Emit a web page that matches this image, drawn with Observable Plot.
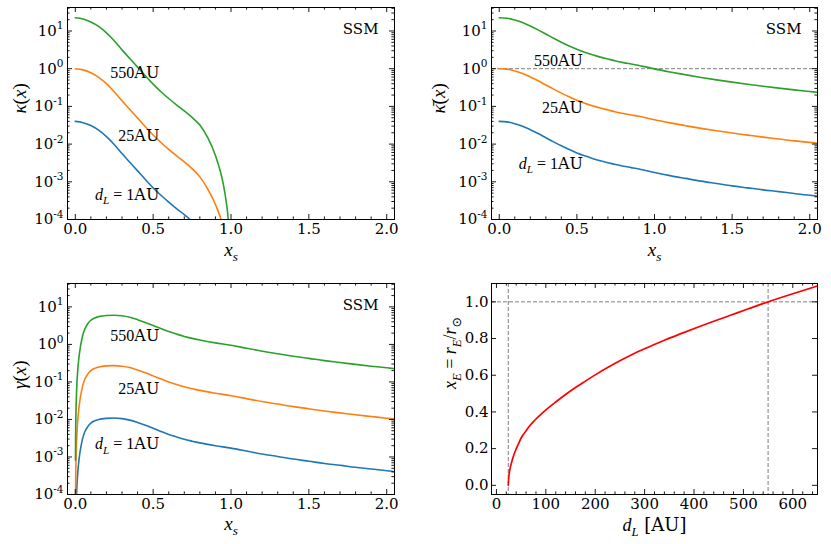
<!DOCTYPE html>
<html><head><meta charset="utf-8">
<script src="https://cdn.jsdelivr.net/npm/d3@7"></script>
<script src="https://cdn.jsdelivr.net/npm/@observablehq/plot@0.6"></script>
<style>
body{margin:0;background:#fff;}
#wrap{position:relative;width:831px;height:544px;overflow:hidden;background:#fff;}
.panel{position:absolute;}
</style></head><body><div id="wrap"></div>
<script>
// ---------- data ----------
const colors = {d1:"#1f77b4", d25:"#ff7f0e", d550:"#2ca02c", red:"#ff0000", dash:"#7f7f7f"};

// Panel 1: kappa(x)
const xsK = [0,0.05,0.1,0.15,0.2,0.25,0.3,0.35,0.4,0.45,0.5,0.55,0.6,0.65,0.7,0.75,0.8,0.85,0.9,0.93,0.95,0.97,0.98,0.985];
const kappa550 = [22.4,20.9,17.4,13.2,8.9,5.5,3.16,1.86,1.10,0.65,0.39,0.245,0.162,0.110,0.076,0.051,0.032,0.015,0.0050,0.0020,0.00089,0.00028,0.000126,0.00006];
const kappa25 = [1.0,0.93,0.78,0.59,0.40,0.245,0.141,0.083,0.049,0.029,0.0174,0.011,0.0072,0.0049,0.0034,0.00224,0.00135,0.00065,0.00025,0.00012,0.00006];
const kappa1 = [0.040,0.037,0.031,0.0234,0.0158,0.0098,0.0056,0.0033,0.00195,0.00115,0.00069,0.00044,0.00029,0.000195,0.000135,0.000089,0.000054];

// Panel 2: mean kappa
const xsKb = [0,0.05,0.1,0.15,0.2,0.25,0.3,0.35,0.4,0.45,0.5,0.55,0.6,0.65,0.7,0.75,0.8,0.85,0.9,0.95,1.0,1.1,1.2,1.3,1.4,1.5,1.6,1.7,1.8,1.9,2.0,2.05];
const kbar550 = [22.4,21.8,19.5,16.7,13.5,10.7,8.3,6.43,5.04,4.02,3.27,2.73,2.33,2.03,1.8,1.6,1.45,1.33,1.22,1.1,0.99,0.82,0.69,0.585,0.505,0.44,0.387,0.343,0.306,0.274,0.248,0.236];
const kbar25 = [1.0,0.973,0.87,0.745,0.60,0.478,0.37,0.287,0.225,0.18,0.146,0.122,0.104,0.0906,0.0804,0.0714,0.0647,0.0594,0.0545,0.0491,0.0442,0.0366,0.0308,0.0261,0.0225,0.0196,0.0173,0.0153,0.0137,0.0122,0.0111,0.0105];
const kbar1 = [0.040,0.0389,0.0348,0.0298,0.024,0.0191,0.0148,0.01148,0.009,0.0072,0.00584,0.00488,0.00416,0.00362,0.00322,0.00286,0.00259,0.00238,0.00218,0.00196,0.00177,0.00146,0.00123,0.00104,0.0009,0.00078,0.00069,0.00061,0.00055,0.00049,0.00044,0.00042];

// Panel 3: gamma(x)
const xsG = [0.001,0.002,0.004,0.007,0.01,0.015,0.02,0.03,0.04,0.05,0.06,0.08,0.1,0.125,0.15,0.2,0.25,0.3,0.35,0.4,0.45,0.5,0.55,0.6,0.65,0.7,0.75,0.8,0.9,1.0,1.1,1.2,1.3,1.4,1.5,1.6,1.7,1.8,1.9,2.0,2.05];
const gamma550 = [0.00082,0.0033,0.013,0.040,0.082,0.185,0.33,0.72,1.25,1.9,2.5,3.55,4.4,5.05,5.5,5.9,6.0,5.8,5.3,4.55,3.85,3.2,2.65,2.2,1.88,1.63,1.45,1.31,1.1,0.95,0.79,0.66,0.565,0.485,0.425,0.37,0.33,0.293,0.263,0.238,0.226];
const gamma25 = [0.000037,0.00015,0.00059,0.0018,0.0037,0.0084,0.015,0.033,0.057,0.086,0.114,0.161,0.2,0.23,0.25,0.268,0.272,0.263,0.241,0.207,0.175,0.145,0.12,0.1,0.0855,0.074,0.066,0.0595,0.05,0.043,0.0359,0.030,0.0257,0.022,0.0193,0.0168,0.015,0.0133,0.012,0.0108,0.0103];
const gamma1 = [0.0000015,0.000006,0.000024,0.000072,0.00015,0.00034,0.0006,0.00132,0.00228,0.00344,0.00456,0.00644,0.008,0.0092,0.01,0.0107,0.0109,0.0105,0.0096,0.0083,0.007,0.0058,0.0048,0.004,0.00342,0.00296,0.00264,0.00238,0.002,0.00172,0.00144,0.0012,0.00103,0.00088,0.00077,0.00067,0.0006,0.00053,0.00048,0.00043,0.00041];

// Panel 4: x_E vs d_L
const dL = [24,25,26,28,30,34,40,45,50,58,65,78,90,105,120,140,160,180,200,225,250,280,300,340,375,410,440,475,510,550,600,650];
const xE = [0,0.046,0.067,0.096,0.118,0.156,0.199,0.229,0.258,0.29,0.317,0.356,0.387,0.422,0.454,0.495,0.533,0.568,0.602,0.642,0.679,0.72,0.744,0.791,0.828,0.864,0.894,0.928,0.962,1.0,1.044,1.086];
const dashV = [24, 550];
const dashH = [1.0];

// tick values
const xsMajor = [0,0.5,1,1.5,2];
const logMajor = [1e-4,1e-3,1e-2,1e-1,1,10];
const dMajor = [0,100,200,300,400,500,600];
const xeMajor = [0,0.2,0.4,0.6,0.8,1.0];

// annotation labels
const labels1 = [{t:"550AU", x:0.54, y:0.58},{t:"25AU", x:0.54, y:0.0124},{t:"dL=1AU", x:0.54, y:3.3e-4}];
const labels2 = [{t:"550AU", x:0.54, y:1.2},{t:"25AU", x:0.54, y:0.065},{t:"dL=1AU", x:0.54, y:0.0022}];
const labels3 = [{t:"550AU", x:0.54, y:1.26},{t:"25AU", x:0.54, y:0.049},{t:"dL=1AU", x:0.54, y:0.0016}];

// ---------- helpers ----------
const rows = (xs, ys) => ys.map((y, i) => ({x: xs[i], y}));
const xsMinor = d3.range(1, 21).map(i => i / 10).filter(v => !xsMajor.some(m => Math.abs(m - v) < 1e-9));
const logMinor = [];
for (let k = -4; k <= 1; k++) for (let m = 2; m <= 9; m++) { const v = m * Math.pow(10, k); if (v <= 42) logMinor.push(v); }
const dMinor = d3.range(20, 650, 20).filter(v => v % 100 !== 0);

const svgNS = "http://www.w3.org/2000/svg";
const MATH = "'Liberation Serif','DejaVu Serif',serif";
const TEXT = "'DejaVu Serif',serif";
const TICKSIZE = 15;
function rich(el, segs, size) {
  while (el.firstChild) el.removeChild(el.firstChild);
  let shift = 0;
  for (const [s, st] of segs) {
    const f = st.split(" ");
    const ts = document.createElementNS(svgNS, "tspan");
    ts.textContent = s;
    const sub = f.includes("sub"), sup = f.includes("sup");
    const target = sub ? 0.28 * size : sup ? -0.42 * size : 0;
    if (target !== shift) { ts.setAttribute("dy", (target - shift).toFixed(2)); shift = target; }
    ts.setAttribute("font-family", f.includes("t") ? TEXT : f.includes("s") ? "'DejaVu Sans',sans-serif" : MATH);
    if (f.includes("i")) ts.setAttribute("font-style", "italic");
    ts.setAttribute("font-size", ((sub || sup) ? 0.7 * size : size).toFixed(1));
    el.appendChild(ts);
  }
}
const RICH = {
  "κ(x)": {size:19, segs:[["κ","i"],["(","m"],["x","i"],[")","m"]]},
  "κ̄(x)": {size:19, segs:[["κ\u0304","i"],["(","m"],["x","i"],[")","m"]]},
  "γ(x)": {size:19, segs:[["γ","i"],["(","m"],["x","i"],[")","m"]]},
  "x_s": {size:19, segs:[["x","i"],["s","i sub"]]},
  "d_L [AU]": {size:18, segs:[["d","i"],["L","i sub"],[" [AU]","t"]]},
  "x_E": {size:18, segs:[["x","i"],["E","i sub"],[" = ","m"],["r","i"],["E","i sub"],["/","m"],["r","i"],["⊙","s sub"]]},
  "550AU": {size:16, segs:[["550","m"],["AU","t"]]},
  "25AU": {size:16, segs:[["25","m"],["AU","t"]]},
  "dL=1AU": {size:16, segs:[["d","i"],["L","i sub"],[" = 1","m"],["AU","t"]]}
};
function postProcess(svg) {
  d3.select(svg).selectAll("text").each(function() {
    const t = this.textContent;
    if (RICH[t]) { rich(this, RICH[t].segs, RICH[t].size); return; }
    const m = /^10\^(-?\d+)$/.exec(t);
    if (m) rich(this, [["10","t"],[m[1],"t sup"]], TICKSIZE);
  });
}

function makePanel(p) {
  const fw = p.W - p.mL - p.mR, fh = p.H - p.mT - p.mB;
  const tk = {stroke:"black", strokeWidth:0.9};
  const M = 5, m = 2.6;
  const ticks = [
    Plot.tickX(p.xMaj, {x:d=>d, insetTop: fh - M, ...tk}),
    Plot.tickX(p.xMaj, {x:d=>d, insetBottom: fh - M, ...tk}),
    Plot.tickY(p.yMaj, {y:d=>d, insetRight: fw - M, ...tk}),
    Plot.tickY(p.yMaj, {y:d=>d, insetLeft: fw - M, ...tk})
  ];
  if (p.xMin) ticks.push(
    Plot.tickX(p.xMin, {x:d=>d, insetTop: fh - m, ...tk}),
    Plot.tickX(p.xMin, {x:d=>d, insetBottom: fh - m, ...tk}));
  if (p.yMin) ticks.push(
    Plot.tickY(p.yMin, {y:d=>d, insetRight: fw - m, ...tk}),
    Plot.tickY(p.yMin, {y:d=>d, insetLeft: fw - m, ...tk}));
  const svg = Plot.plot({
    width: p.W, height: p.H,
    marginLeft: p.mL, marginRight: p.mR, marginTop: p.mT, marginBottom: p.mB,
    x: {domain: p.xDomain},
    y: {type: p.yType || "linear", domain: p.yDomain},
    style: {fontFamily: TEXT, fontSize: TICKSIZE + "px", background: "white", color: "black", overflow: "visible"},
    marks: [
      ...p.marks,
      ...ticks,
      Plot.frame({stroke: "black", strokeWidth: 1}),
      Plot.axisX({ticks: p.xMaj, tickSize: 0, tickPadding: 4, tickFormat: p.xFmt, label: null, fontSize: TICKSIZE}),
      Plot.axisY({ticks: p.yMaj, tickSize: 0, tickPadding: p.yPad, tickFormat: p.yFmt, label: null, fontSize: TICKSIZE}),
      Plot.text([p.ylabel], {text: d=>d, frameAnchor: "left", dx: p.ylDx, rotate: -90, fontSize: 18}),
      Plot.text([p.xlabel], {text: d=>d, frameAnchor: "bottom", dy: p.xlDy, fontSize: 18}),
      ...(p.extra || [])
    ]
  });
  postProcess(svg);
  const div = document.createElement("div");
  div.className = "panel";
  div.style.left = p.left + "px"; div.style.top = p.top + "px";
  div.appendChild(svg);
  document.getElementById("wrap").appendChild(div);
}

const logFmt = d => "10^" + Math.round(Math.log10(d));
const lineOpts = (c) => ({x:"x", y:"y", stroke:c, strokeWidth:1.6, clip:true, curve:"monotone-x"});
const annot = (labs) => Plot.text(labs, {x:"x", y:"y", text:"t", textAnchor:"end", lineAnchor:"bottom", fontSize:16});
const ssm = Plot.text(["SSM"], {text:d=>d, frameAnchor:"top-right", dx:-16, dy:26, textAnchor:"end", lineAnchor:"bottom", fontSize:15});

// Panel 1
makePanel({left:0, top:0, W:415, H:272, mL:67, mR:21, mT:7, mB:53,
  xDomain:[-0.05,2.05], yType:"log", yDomain:[1e-4,42],
  xMaj:xsMajor, xMin:xsMinor, yMaj:logMajor, yMin:logMinor, xFmt:d3.format(".1f"), yFmt:logFmt, yPad:4,
  ylabel:"κ(x)", ylDx:-47, xlabel:"x_s", xlDy:36,
  marks:[
    Plot.line(rows(xsK,kappa1), lineOpts(colors.d1)),
    Plot.line(rows(xsK,kappa25), lineOpts(colors.d25)),
    Plot.line(rows(xsK,kappa550), lineOpts(colors.d550))
  ],
  extra:[annot(labels1), ssm]
});

// Panel 2
makePanel({left:415, top:0, W:416, H:272, mL:76, mR:14, mT:7, mB:53,
  xDomain:[-0.05,2.05], yType:"log", yDomain:[1e-4,42],
  xMaj:xsMajor, xMin:xsMinor, yMaj:logMajor, yMin:logMinor, xFmt:d3.format(".1f"), yFmt:logFmt, yPad:4,
  ylabel:"κ̄(x)", ylDx:-52, xlabel:"x_s", xlDy:36,
  marks:[
    Plot.ruleY(dashH, {stroke:colors.dash, strokeDasharray:"4,2", strokeWidth:1}),
    Plot.line(rows(xsKb,kbar1), lineOpts(colors.d1)),
    Plot.line(rows(xsKb,kbar25), lineOpts(colors.d25)),
    Plot.line(rows(xsKb,kbar550), lineOpts(colors.d550))
  ],
  extra:[annot(labels2), ssm]
});

// Panel 3
makePanel({left:0, top:272, W:415, H:272, mL:67, mR:21, mT:11, mB:50,
  xDomain:[-0.05,2.05], yType:"log", yDomain:[1e-4,42],
  xMaj:xsMajor, xMin:xsMinor, yMaj:logMajor, yMin:logMinor, xFmt:d3.format(".1f"), yFmt:logFmt, yPad:4,
  ylabel:"γ(x)", ylDx:-47, xlabel:"x_s", xlDy:35,
  marks:[
    Plot.line(rows(xsG,gamma1), lineOpts(colors.d1)),
    Plot.line(rows(xsG,gamma25), lineOpts(colors.d25)),
    Plot.line(rows(xsG,gamma550), lineOpts(colors.d550))
  ],
  extra:[annot(labels3), ssm]
});

// Panel 4
makePanel({left:415, top:272, W:416, H:272, mL:76, mR:14, mT:11, mB:50,
  xDomain:[-10,650], yType:"linear", yDomain:[-0.05,1.1],
  xMaj:dMajor, xMin:dMinor, yMaj:xeMajor, yMin:null, xFmt:d3.format("d"), yFmt:d3.format(".1f"), yPad:3,
  ylabel:"x_E", ylDx:-41, xlabel:"d_L [AU]", xlDy:36,
  marks:[
    Plot.ruleY(dashH, {stroke:colors.dash, strokeDasharray:"4,2", strokeWidth:1}),
    Plot.ruleX(dashV, {stroke:colors.dash, strokeDasharray:"4,2", strokeWidth:1}),
    Plot.line(rows(dL,xE), {x:"x", y:"y", stroke:colors.red, strokeWidth:1.7, clip:true, curve:"monotone-x"})
  ]
});
</script></body></html>
